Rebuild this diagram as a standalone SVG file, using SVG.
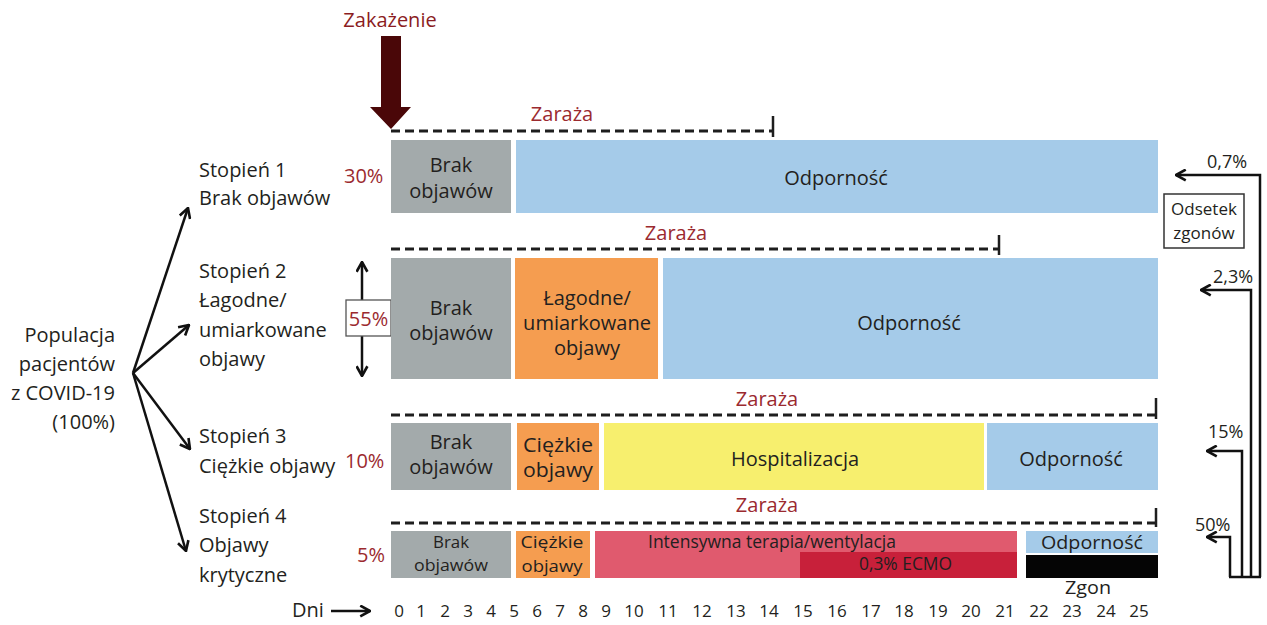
<svg xmlns="http://www.w3.org/2000/svg" width="1267" height="625" viewBox="0 0 1267 625">
<style>
text{font-family:"Open Sans","Noto Sans","Liberation Sans",sans-serif;fill:#231f20}
.t{font-size:20px}
.c{text-anchor:middle}
.r{text-anchor:end}
.red{fill:#9b2a2f}
.s{font-size:17px}
.m{font-size:18px}
.z{font-size:20px}
.dash{stroke:#1e1e1e;stroke-width:3;stroke-dasharray:9 5;fill:none}
.tick{stroke:#1e1e1e;stroke-width:2.5}
.gray{fill:#a3aaab}.blue{fill:#a5cbe9}.orange{fill:#f59d50}.yellow{fill:#f7ef6e}.pink{fill:#e05a6e}.ecmo{fill:#c8203a}.black{fill:#050505}
.con{fill:none;stroke:#111;stroke-width:2.5}
</style>
<defs>
<marker id="ah" viewBox="0 0 12 12" refX="11" refY="6" markerWidth="13" markerHeight="13" markerUnits="userSpaceOnUse" orient="auto-start-reverse">
<path d="M2,1 L11,6 L2,11" fill="none" stroke="#111" stroke-width="2.4"/>
</marker>
</defs>

<g id="infection">
<text class="c" x="390" y="27" style="font-size:20px;fill:#8b1c22">Zakażenie</text>
<polygon points="381,36 401,36 401,107 411,107 391,129 370,107 381,107" fill="#4a0708"/>
</g>

<g id="population">
<text class="t r" x="115" y="342">Populacja</text>
<text class="t r" x="115" y="371">pacjentów</text>
<text class="t r" x="115" y="400">z COVID-19</text>
<text class="t r" x="115" y="429">(100%)</text>
</g>

<g id="grade1-label">
<text class="t" x="199" y="177">Stopień 1</text>
<text class="t" x="199" y="205">Brak objawów</text>
<text class="t red" x="344" y="183">30%</text>
</g>
<g id="grade2-label">
<text class="t" x="199" y="278">Stopień 2</text>
<text class="t" x="199" y="307">Łagodne/</text>
<text class="t" x="199" y="337">umiarkowane</text>
<text class="t" x="199" y="366">objawy</text>
<line x1="362" y1="262" x2="362" y2="376" class="con" marker-start="url(#ah)" marker-end="url(#ah)"/>
<rect x="346" y="300" width="45" height="36" fill="#fff" stroke="#555" stroke-width="1.3"/>
<text class="t red c" x="368.5" y="326">55%</text>
</g>
<g id="grade3-label">
<text class="t" x="199" y="443">Stopień 3</text>
<text class="t" x="199" y="473">Ciężkie objawy</text>
<text class="t red" x="345" y="468">10%</text>
</g>
<g id="grade4-label">
<text class="t" x="199" y="523">Stopień 4</text>
<text class="t" x="199" y="552">Objawy</text>
<text class="t" x="199" y="582">krytyczne</text>
<text class="t red" x="357" y="562">5%</text>
</g>

<g id="row1">
<text class="z red c" x="562" y="121">Zaraża</text>
<line x1="391" y1="131" x2="772" y2="131" class="dash"/>
<line x1="773" y1="116" x2="773" y2="137" class="tick"/>
<rect class="gray" x="391" y="140" width="120" height="73"/>
<rect class="blue" x="516" y="140" width="642" height="73"/>
<text class="t c" x="451" y="172">Brak</text>
<text class="t c" x="451" y="198">objawów</text>
<text class="t c" x="836" y="185">Odporność</text>
</g>

<g id="row2">
<text class="z red c" x="676" y="240">Zaraża</text>
<line x1="391" y1="249" x2="998" y2="249" class="dash"/>
<line x1="999" y1="235" x2="999" y2="255" class="tick"/>
<rect class="gray" x="391" y="258" width="120" height="121"/>
<rect class="orange" x="515" y="258" width="143" height="121"/>
<rect class="blue" x="663" y="258" width="495" height="121"/>
<text class="t c" x="451" y="315">Brak</text>
<text class="t c" x="451" y="340">objawów</text>
<text class="t c" x="587" y="305">Łagodne/</text>
<text class="t c" x="587" y="330">umiarkowane</text>
<text class="t c" x="587" y="355">objawy</text>
<text class="t c" x="909" y="330">Odporność</text>
</g>

<g id="row3">
<text class="z red c" x="767" y="406">Zaraża</text>
<line x1="391" y1="415" x2="1155" y2="415" class="dash"/>
<line x1="1156" y1="398" x2="1156" y2="419" class="tick"/>
<rect class="gray" x="391" y="423" width="120" height="67"/>
<rect class="orange" x="517" y="423" width="82" height="67"/>
<rect class="yellow" x="604" y="423" width="380" height="67"/>
<rect class="blue" x="987" y="423" width="171" height="67"/>
<text class="t c" x="451" y="449">Brak</text>
<text class="t c" x="451" y="474">objawów</text>
<text class="c" x="558" y="452" style="font-size:20px" textLength="70" lengthAdjust="spacingAndGlyphs">Ciężkie</text>
<text class="c" x="558" y="477" style="font-size:20px" textLength="70" lengthAdjust="spacingAndGlyphs">objawy</text>
<text class="t c" x="795" y="466">Hospitalizacja</text>
<text class="t c" x="1071" y="466">Odporność</text>
</g>

<g id="row4">
<text class="z red c" x="767" y="512">Zaraża</text>
<line x1="391" y1="523" x2="1155" y2="523" class="dash"/>
<line x1="1156" y1="508" x2="1156" y2="527" class="tick"/>
<rect class="gray" x="391" y="531" width="120" height="47"/>
<rect class="orange" x="516" y="531" width="74" height="47"/>
<rect class="pink" x="595" y="531" width="422" height="47"/>
<rect class="ecmo" x="800" y="552" width="217" height="26"/>
<rect class="blue" x="1026" y="531" width="132" height="22"/>
<rect class="black" x="1026" y="555" width="132" height="23"/>
<text class="s c" x="451" y="548" textLength="36" lengthAdjust="spacingAndGlyphs">Brak</text>
<text class="s c" x="451" y="571" textLength="74" lengthAdjust="spacingAndGlyphs">objawów</text>
<text class="s c" x="552" y="548" textLength="63" lengthAdjust="spacingAndGlyphs">Ciężkie</text>
<text class="s c" x="552" y="572" textLength="61" lengthAdjust="spacingAndGlyphs">objawy</text>
<text class="m" x="648" y="548" textLength="248" lengthAdjust="spacingAndGlyphs">Intensywna terapia/wentylacja</text>
<text class="m" x="859" y="570" textLength="93" lengthAdjust="spacingAndGlyphs">0,3% ECMO</text>
<text class="m c" x="1092" y="549" textLength="102" lengthAdjust="spacingAndGlyphs">Odporność</text>
<text class="c" x="1088" y="594" style="font-size:19px" textLength="46" lengthAdjust="spacingAndGlyphs">Zgon</text>
</g>

<g id="days">
<text class="t" x="292" y="617">Dni</text>
<text class="s c" y="617"><tspan x="399">0</tspan><tspan x="421">1</tspan><tspan x="445">2</tspan><tspan x="468">3</tspan><tspan x="491">4</tspan><tspan x="514">5</tspan><tspan x="537">6</tspan><tspan x="560">7</tspan><tspan x="583">8</tspan><tspan x="606">9</tspan><tspan x="634">10</tspan><tspan x="668">11</tspan><tspan x="702">12</tspan><tspan x="736">13</tspan><tspan x="769">14</tspan><tspan x="803">15</tspan><tspan x="837">16</tspan><tspan x="871">17</tspan><tspan x="904">18</tspan><tspan x="938">19</tspan><tspan x="971">20</tspan><tspan x="1005">21</tspan><tspan x="1039">22</tspan><tspan x="1072">23</tspan><tspan x="1106">24</tspan><tspan x="1139">25</tspan></text>
</g>

<g id="mortality">
<rect x="1164" y="194" width="80" height="54" fill="#fff" stroke="#333" stroke-width="1.5"/>
<text class="c" x="1204" y="215" style="font-size:17px">Odsetek</text>
<text class="c" x="1204" y="239" style="font-size:17px">zgonów</text>
<text class="m" x="1207" y="168">0,7%</text>
<text class="m" x="1213" y="283">2,3%</text>
<text class="m" x="1208" y="438">15%</text>
<text class="m" x="1195" y="531">50%</text>
</g>

<g id="connectors">
<line x1="133" y1="373" x2="188" y2="208" class="con" marker-end="url(#ah)"/>
<line x1="133" y1="373" x2="189" y2="325" class="con" marker-end="url(#ah)"/>
<line x1="133" y1="373" x2="190" y2="449" class="con" marker-end="url(#ah)"/>
<line x1="133" y1="373" x2="186" y2="551" class="con" marker-end="url(#ah)"/>
<line x1="331" y1="611" x2="370" y2="611" class="con" marker-end="url(#ah)"/>
<path d="M1260,577 V175 H1176" class="con" marker-end="url(#ah)"/>
<path d="M1251,577 V290 H1201" class="con" marker-end="url(#ah)"/>
<path d="M1242,577 V451 H1207" class="con" marker-end="url(#ah)"/>
<path d="M1230,577 V537 H1207" class="con" marker-end="url(#ah)"/>
<path d="M1229,577 H1261" class="con"/>
</g>
</svg>
